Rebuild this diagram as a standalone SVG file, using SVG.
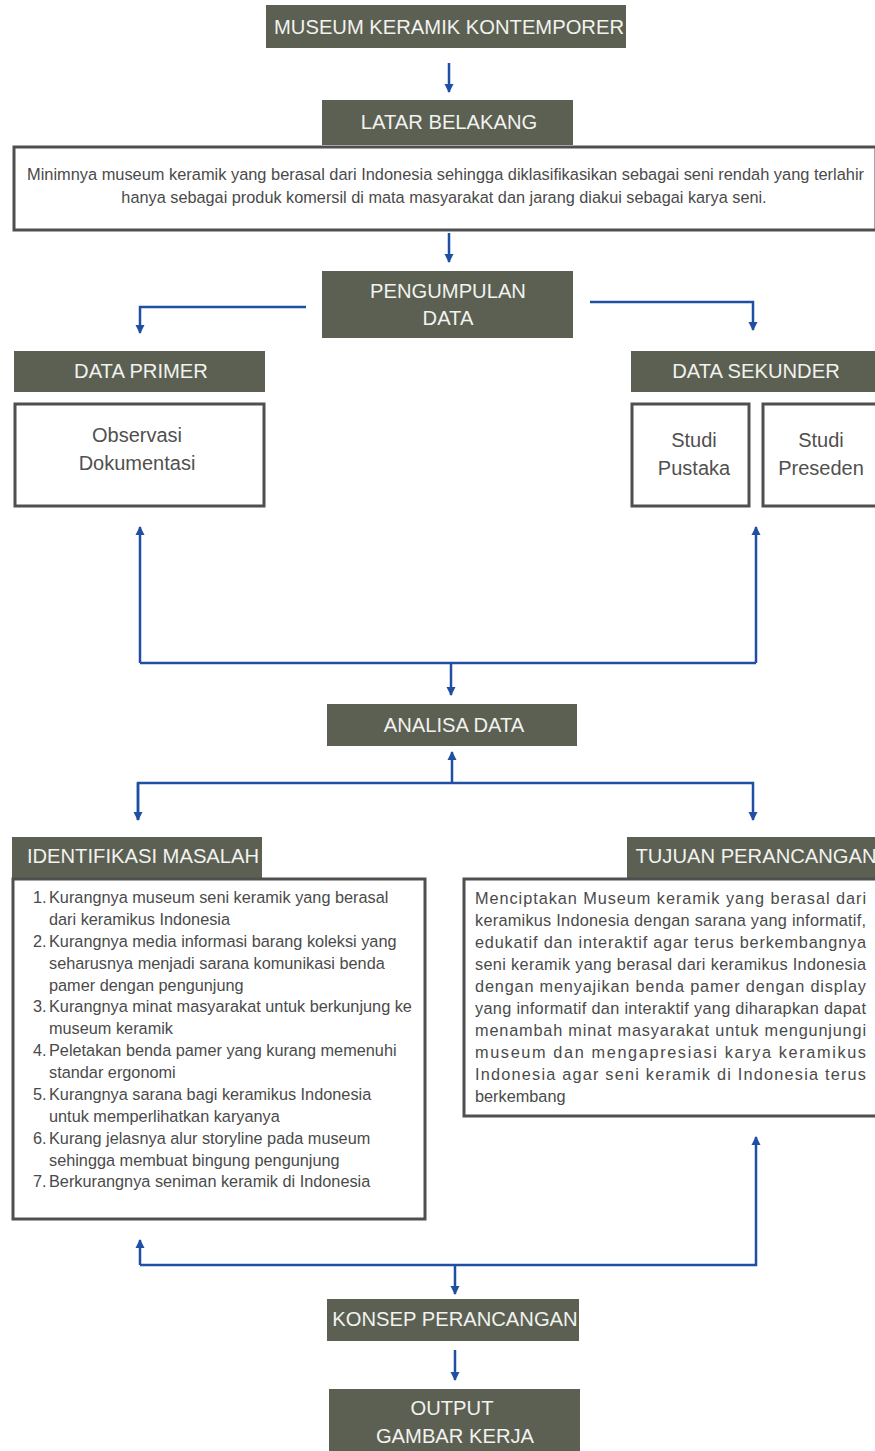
<svg xmlns="http://www.w3.org/2000/svg" width="875" height="1451" viewBox="0 0 875 1451">
<defs>
<style>
.hd{fill:#5b6053}
.ht{fill:#f2f2ee;font-family:"Liberation Sans",Arial,sans-serif;font-size:20.2px;text-anchor:middle}
.bx{fill:#ffffff;stroke:#4f4f4f;stroke-width:3}
.bt{fill:#505050;font-family:"Liberation Sans",Arial,sans-serif;font-size:20px;text-anchor:middle}
.st{fill:#4a4a4a;font-family:"Liberation Sans",Arial,sans-serif;font-size:16.3px}
.ln{fill:none;stroke:#1f4fa3;stroke-width:2.5}
</style>
<marker id="ah" markerUnits="userSpaceOnUse" markerWidth="10" markerHeight="10" refX="8" refY="5" orient="auto">
<path d="M0,0.5 L9,5 L0,9.5 z" fill="#1f4fa3"/>
</marker>
</defs>
<rect width="875" height="1451" fill="#ffffff"/>

<g id="museum"><rect class="hd" x="266" y="5" width="360" height="43"/><text class="ht" x="449" y="34" font-size="20.5">MUSEUM KERAMIK KONTEMPORER</text></g>

<g id="latar-head"><rect class="hd" x="322" y="100" width="251" height="45"/><text class="ht" x="449" y="129">LATAR BELAKANG</text></g>

<g id="latar-body"><rect class="bx" x="14" y="147" width="862" height="83"/>
<text class="st" x="27" y="180" textLength="837" lengthAdjust="spacingAndGlyphs">Minimnya museum keramik yang berasal dari Indonesia sehingga diklasifikasikan sebagai seni rendah yang terlahir</text>
<text class="st" x="444" y="203" text-anchor="middle">hanya sebagai produk komersil di mata masyarakat dan jarang diakui sebagai karya seni.</text></g>

<g id="pengumpulan"><rect class="hd" x="322" y="271" width="251" height="67"/><text class="ht" x="448" y="298">PENGUMPULAN</text><text class="ht" x="448" y="325">DATA</text></g>

<g id="primer-head"><rect class="hd" x="14" y="351" width="251" height="41"/><text class="ht" x="141" y="378">DATA PRIMER</text></g>
<g id="primer-body"><rect class="bx" x="15" y="404" width="249" height="102"/><text class="bt" x="137" y="442">Observasi</text><text class="bt" x="137" y="470">Dokumentasi</text></g>

<g id="sekunder-head"><rect class="hd" x="631" y="351" width="244" height="41"/><text class="ht" x="756" y="378">DATA SEKUNDER</text></g>
<g id="pustaka"><rect class="bx" x="632" y="404" width="117" height="102"/><text class="bt" x="694" y="447">Studi</text><text class="bt" x="694" y="475">Pustaka</text></g>
<g id="preseden"><rect class="bx" x="763" y="404" width="115" height="102"/><text class="bt" x="821" y="447">Studi</text><text class="bt" x="821" y="475">Preseden</text></g>

<g id="analisa"><rect class="hd" x="327" y="704" width="250" height="42"/><text class="ht" x="454" y="732">ANALISA DATA</text></g>

<g id="identifikasi-head"><rect class="hd" x="12" y="837" width="250" height="41"/><text class="ht" x="143" y="863" font-size="19.8">IDENTIFIKASI MASALAH</text></g>
<g id="identifikasi-body"><rect class="bx" x="13" y="879" width="412" height="340"/>
<g class="st">
<text x="33" y="903">1.</text><text x="49" y="903">Kurangnya museum seni keramik yang berasal</text>
<text x="49" y="925">dari keramikus Indonesia</text>
<text x="33" y="947">2.</text><text x="49" y="947">Kurangnya media informasi barang koleksi yang</text>
<text x="49" y="969">seharusnya menjadi sarana komunikasi benda</text>
<text x="49" y="991">pamer dengan pengunjung</text>
<text x="33" y="1012">3.</text><text x="49" y="1012">Kurangnya minat masyarakat untuk berkunjung ke</text>
<text x="49" y="1034">museum keramik</text>
<text x="33" y="1056">4.</text><text x="49" y="1056">Peletakan benda pamer yang kurang memenuhi</text>
<text x="49" y="1078">standar ergonomi</text>
<text x="33" y="1100">5.</text><text x="49" y="1100">Kurangnya sarana bagi keramikus Indonesia</text>
<text x="49" y="1122">untuk memperlihatkan karyanya</text>
<text x="33" y="1144">6.</text><text x="49" y="1144">Kurang jelasnya alur storyline pada museum</text>
<text x="49" y="1166">sehingga membuat bingung pengunjung</text>
<text x="33" y="1187">7.</text><text x="49" y="1187">Berkurangnya seniman keramik di Indonesia</text>
</g></g>

<g id="tujuan-head"><rect class="hd" x="627" y="837" width="248" height="41"/><text class="ht" x="756" y="863" font-size="19.8">TUJUAN PERANCANGAN</text></g>
<g id="tujuan-body"><rect class="bx" x="464" y="879" width="414" height="237"/>
<g class="st">
<text x="475" y="904" textLength="391" lengthAdjust="spacing">Menciptakan Museum keramik yang berasal dari</text>
<text x="475" y="926" textLength="391" lengthAdjust="spacing">keramikus Indonesia dengan sarana yang informatif,</text>
<text x="475" y="948" textLength="391" lengthAdjust="spacing">edukatif dan interaktif agar terus berkembangnya</text>
<text x="475" y="970" textLength="391" lengthAdjust="spacing">seni keramik yang berasal dari keramikus Indonesia</text>
<text x="475" y="992" textLength="391" lengthAdjust="spacing">dengan menyajikan benda pamer dengan display</text>
<text x="475" y="1014" textLength="391" lengthAdjust="spacing">yang informatif dan interaktif yang diharapkan dapat</text>
<text x="475" y="1036" textLength="391" lengthAdjust="spacing">menambah minat masyarakat untuk mengunjungi</text>
<text x="475" y="1058" textLength="391" lengthAdjust="spacing">museum dan mengapresiasi karya keramikus</text>
<text x="475" y="1080" textLength="391" lengthAdjust="spacing">Indonesia agar seni keramik di Indonesia terus</text>
<text x="475" y="1102">berkembang</text>
</g></g>

<g id="konsep"><rect class="hd" x="327" y="1299" width="252" height="42"/><text class="ht" x="455" y="1326" font-size="20">KONSEP PERANCANGAN</text></g>
<g id="output"><rect class="hd" x="329" y="1389" width="251" height="62"/><text class="ht" x="452" y="1415">OUTPUT</text><text class="ht" x="455" y="1443">GAMBAR KERJA</text></g>

<g id="connectors">
<path class="ln" d="M449,63 V92" marker-end="url(#ah)"/>
<path class="ln" d="M449,233 V262" marker-end="url(#ah)"/>
<path class="ln" d="M306,307 H140 V333" marker-end="url(#ah)"/>
<path class="ln" d="M590,302 H753 V330" marker-end="url(#ah)"/>
<path class="ln" d="M140,663 V527" marker-end="url(#ah)"/>
<path class="ln" d="M756,663 V527" marker-end="url(#ah)"/>
<path class="ln" d="M140,663 H756"/>
<path class="ln" d="M451,663 V695" marker-end="url(#ah)"/>
<path class="ln" d="M452,783 V752" marker-end="url(#ah)"/>
<path class="ln" d="M138,820 V783 H753 V820" marker-end="url(#ah)"/>
<path class="ln" d="M138,783 V820" marker-end="url(#ah)"/>
<path class="ln" d="M140,1265 V1240" marker-end="url(#ah)"/>
<path class="ln" d="M140,1265 H756 V1137" marker-end="url(#ah)"/>
<path class="ln" d="M455,1265 V1294" marker-end="url(#ah)"/>
<path class="ln" d="M455,1350 V1380" marker-end="url(#ah)"/>
</g>
</svg>
